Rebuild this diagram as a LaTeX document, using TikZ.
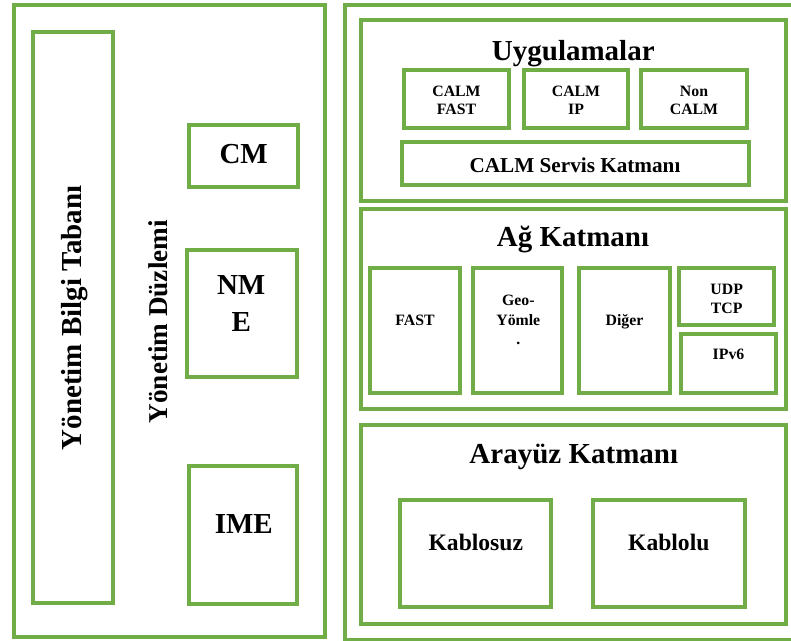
\documentclass[tikz,border=0pt]{standalone}
\usepackage{fontspec}
\setmainfont{Liberation Serif}
\usetikzlibrary{fit}
\definecolor{leaf}{RGB}{112,173,71}
\begin{document}
\begin{tikzpicture}[x=0.75pt,y=-0.75pt,
  box/.style={draw=leaf, line width=3pt, inner sep=0pt},
  lbl/.style={anchor=base, inner sep=0pt, text=black},
  bigtxt/.style={lbl, font=\fontsize{21.75}{26}\selectfont\bfseries},
  sidetxt/.style={lbl, font=\fontsize{20.4}{24}\selectfont\bfseries},
  midtxt/.style={lbl, font=\fontsize{15.9}{19}\selectfont\bfseries},
  cabtxt/.style={lbl, font=\fontsize{17.7}{21}\selectfont\bfseries},
  smalltxt/.style={lbl, font=\fontsize{11.85}{14}\selectfont\bfseries}]
\useasboundingbox (0,0) rectangle (791,641);
\fill[white] (0,0) rectangle (791,641);

% management plane
\node[box, fit={(13.5,5.5) (325,636.5)}] (mgmt) {};
\node[box, fit={(32.5,32) (113,603)}] (mib) {};
\node[box, fit={(189,125) (298,187)}] (cm) {};
\node[box, fit={(187,250) (297,377)}] (nme) {};
\node[box, fit={(189,466) (297,604)}] (ime) {};

\node[bigtxt, rotate=90] (mibT) at (81,318) {Yönetim Bilgi Tabanı};
\node[sidetxt, rotate=90] (planeT) at (167.5,321.7) {Yönetim Düzlemi};
\node[bigtxt] (cmT) at (243.7,164) {CM};
\node[bigtxt] (nmeA) at (241.2,294.3) {NM};
\node[bigtxt] (nmeB) at (241.2,331.7) {E};
\node[bigtxt] (imeT) at (243.8,533.3) {IME};

% protocol stack
\node[box, fit={(345,5.5) (800,639.5)}] (stack) {};

% applications
\node[box, fit={(360.5,20) (786,201)}] (apps) {};
\node[box, fit={(404,70) (509,128.5)}] (cfast) {};
\node[box, fit={(524,70) (628,128.5)}] (cip) {};
\node[box, fit={(641,70) (747,128.5)}] (ncalm) {};
\node[box, fit={(402,142) (749,185)}] (svc) {};

\node[bigtxt] (appsT) at (573.3,60.5) {Uygulamalar};
\node[smalltxt] (cfastA) at (456.5,96.7) {CALM};
\node[smalltxt] (cfastB) at (456.5,115) {FAST};
\node[smalltxt] (cipA) at (576,96.7) {CALM};
\node[smalltxt] (cipB) at (576,115) {IP};
\node[smalltxt] (ncalmA) at (694,96.7) {Non};
\node[smalltxt] (ncalmB) at (694,115) {CALM};
\node[midtxt] (svcT) at (575,172.7) {CALM Servis Katmanı};

% network layer
\node[box, fit={(360.5,209) (786,409)}] (net) {};
\node[box, fit={(370,268) (460,393)}] (nfast) {};
\node[box, fit={(473,268) (562,393)}] (geo) {};
\node[box, fit={(579,268) (670,393)}] (other) {};
\node[box, fit={(679,268) (774,325)}] (udp) {};
\node[box, fit={(681,334) (776,393)}] (ipv6) {};

\node[bigtxt] (netT) at (573,246.7) {Ağ Katmanı};
\node[smalltxt] (nfastT) at (415,325) {FAST};
\node[smalltxt] (geoA) at (518.3,305) {Geo-};
\node[smalltxt] (geoB) at (518.3,325) {Yömle};
\node[smalltxt] (geoC) at (518.3,344) {.};
\node[smalltxt] (otherT) at (624.5,325) {Diğer};
\node[smalltxt] (udpA) at (726.7,294.3) {UDP};
\node[smalltxt] (udpB) at (726.7,313) {TCP};
\node[smalltxt] (ipv6T) at (728.5,359) {IPv6};

% interface layer
\node[box, fit={(361,425) (786,624)}] (ifc) {};
\node[box, fit={(400,500) (551,607)}] (wless) {};
\node[box, fit={(593,500) (745,607)}] (wired) {};

\node[bigtxt] (ifcT) at (573.8,463.3) {Arayüz Katmanı};
\node[cabtxt] (wlessT) at (475.8,550) {Kablosuz};
\node[cabtxt] (wiredT) at (668.8,550) {Kablolu};
\end{tikzpicture}
\end{document}
